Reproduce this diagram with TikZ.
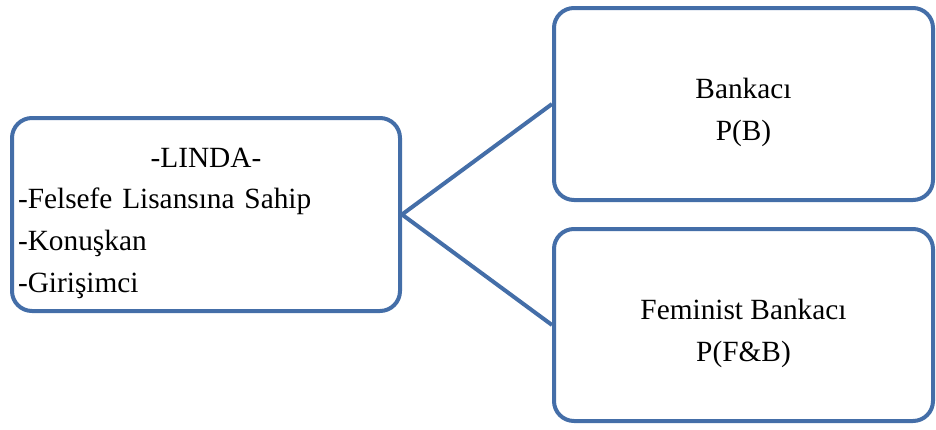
\documentclass[tikz,border=0pt]{standalone}
\usepackage{fontspec}
\setmainfont{Liberation Serif}
\usepackage{xcolor}
\definecolor{boxblue}{RGB}{68,110,168}
\newcommand{\topgap}{\rule{0pt}{27.5pt}}

\begin{document}
\begin{tikzpicture}[x=0.75pt,y=-0.75pt,
    box/.style={draw=boxblue,line width=3pt,rounded corners=15pt,fill=white,
        font=\fontsize{22}{31.3}\selectfont,inner sep=0pt}]
    \useasboundingbox (0,0) rectangle (936,429);

    \node (linda) at (206,214.5) [box,minimum width=291pt,minimum height=144.75pt,
        text width=282pt,align=left] {\noindent\makebox[\linewidth]{\topgap-LINDA-}\\
        -Felsefe Lisansına Sahip\\ -Konuşkan\\ -Girişimci};
    \node (bank) at (743.5,104) [box,minimum width=284.25pt,minimum height=144pt,
        align=center] {\topgap Bankacı\\ P(B)};
    \node (fem) at (743.5,325) [box,minimum width=284.25pt,minimum height=144pt,
        align=center] {\topgap Feminist Bankacı\\ P(F\&B)};

    \draw[boxblue,line width=3pt] (linda.east) -- (bank.west) (linda.east) -- (fem.west);

\end{tikzpicture}
\end{document}
